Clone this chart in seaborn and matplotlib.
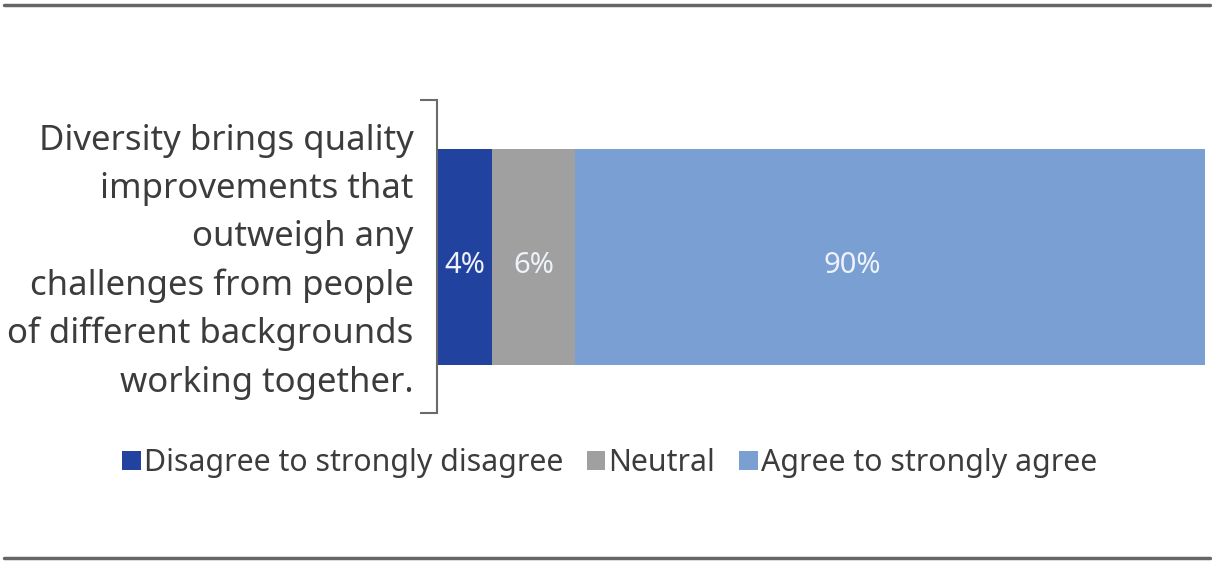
import numpy as np
import pandas as pd
import matplotlib
matplotlib.use("Agg")
import matplotlib.pyplot as plt
import matplotlib.transforms as mtransforms
import seaborn as sns
from matplotlib.lines import Line2D
from matplotlib.patches import Patch

# ---- data ----
statement = ["Diversity brings quality\nimprovements that\noutweigh any\nchallenges from people\nof different backgrounds\nworking together."]
responses = ["Disagree to strongly disagree", "Neutral", "Agree to strongly agree"]
pct_labels = ["4%", "6%", "90%"]
segment_share = [7.2, 10.8, 82.0]  # segment lengths as drawn in the reference
colors = ["#2242a0", "#a0a0a0", "#7a9fd2"]

sns.set_theme(style="white")
plt.rcParams["font.family"] = ["Noto Sans", "DejaVu Sans"]

fig = plt.figure(figsize=(12.12, 5.62), dpi=100)
ax = fig.add_axes([0.3606, 0.265, 0.634, 0.557])

cum = np.cumsum(segment_share)
# draw from largest cumulative to smallest so segments stack visually
for i in reversed(range(len(responses))):
    df = pd.DataFrame({"value": [cum[i]], "item": statement})
    sns.barplot(data=df, x="value", y="item", orient="h", color=colors[i],
                width=0.69, saturation=1, ax=ax, edgecolor="none")

starts = cum - np.array(segment_share)
centers = starts + np.array(segment_share) / 2
centers[-1] = starts[-1] + segment_share[-1] * 0.44
for i, lab in enumerate(pct_labels):
    ax.text(centers[i], 0.03, lab, ha="center", va="center",
            color="#eef2fa", fontsize=21, fontweight="semibold")

ax.set_xlim(0, cum[-1])
ax.set_ylim(0.5, -0.5)
ax.set_xlabel("")
ax.set_ylabel("")
ax.set_xticks([])
for s in ["top", "right", "bottom"]:
    ax.spines[s].set_visible(False)
ax.spines["left"].set_color("#6a6a6a")
ax.spines["left"].set_linewidth(1.5)

ax.tick_params(axis="y", which="major", length=0, pad=17, labelsize=25,
               labelcolor="#3c3c3c")
offset = mtransforms.ScaledTranslation(0, 6 / 100, fig.dpi_scale_trans)
for t in ax.get_yticklabels():
    t.set_multialignment("right")
    t.set_linespacing(1.54)
    t.set_transform(t.get_transform() + offset)
ax.set_yticks([-0.5, 0.5], minor=True)
ax.tick_params(axis="y", which="minor", left=True, length=12, width=1.5,
               color="#6a6a6a", direction="out")

handles = [Patch(facecolor=c, edgecolor="none") for c in colors]
fig.legend(handles, responses, loc="center", bbox_to_anchor=(0.503, 0.176),
           ncol=3, frameon=False, fontsize=21.8, handlelength=0.6,
           handleheight=0.6, handletextpad=0.1, columnspacing=0.8,
           labelcolor="#3c3c3c")

# top and bottom rules
fig.add_artist(Line2D([0.003, 0.998], [0.991, 0.991], transform=fig.transFigure,
                      color="#666666", linewidth=2.5))
fig.add_artist(Line2D([0.003, 0.998], [0.007, 0.007], transform=fig.transFigure,
                      color="#666666", linewidth=2.5))

fig.savefig("out.png", dpi=100)
